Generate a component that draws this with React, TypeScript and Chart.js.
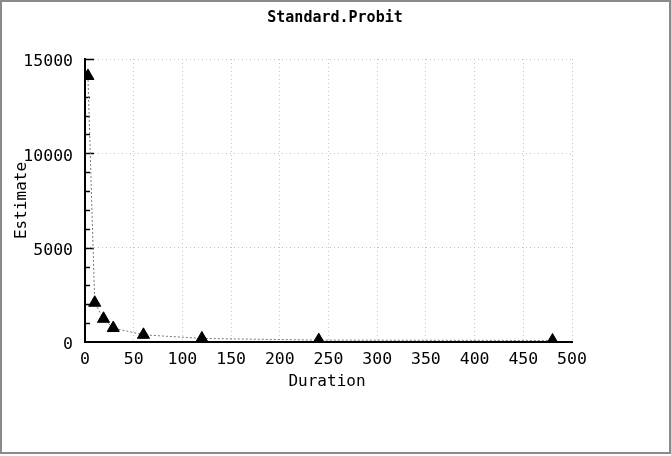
import React, { useEffect, useRef } from "react";
import { Chart, registerables } from "chart.js";

Chart.register(...registerables);

const durations = [3, 10, 19, 29, 60, 120, 240, 480];
const estimates = [14100, 2080, 1230, 740, 380, 190, 100, 80];
const titleText = "Standard.Probit";
const xTitle = "Duration";
const yTitle = "Estimate";

const MONO = "'DejaVu Sans Mono', monospace";

const decorPlugin = {
  id: "decor",
  beforeDatasetsDraw(chart: any) {
    const { ctx, chartArea, scales } = chart;
    const y = scales.y;
    ctx.save();
    ctx.strokeStyle = "#000";
    ctx.lineWidth = 1.5;
    for (let v = 1000; v <= 15000; v += 1000) {
      const py = Math.round(y.getPixelForValue(v)) + 0.5;
      const len = v % 5000 === 0 ? 9 : 5;
      ctx.beginPath();
      ctx.moveTo(chartArea.left, py);
      ctx.lineTo(chartArea.left + len, py);
      ctx.stroke();
    }
    ctx.restore();
  },
  afterDraw(chart: any) {
    const { ctx, chartArea, width, height, scales } = chart;
    ctx.save();
    ctx.strokeStyle = "#8a8a8a";
    ctx.lineWidth = 2;
    ctx.strokeRect(1, 1, width - 2, height - 4);
    ctx.fillStyle = "#000";
    // y tick labels
    ctx.textAlign = "right";
    ctx.textBaseline = "middle";
    ctx.font = `16.5px ${MONO}`;
    for (const t of scales.y.ticks) {
      ctx.fillText(String(t.value), 73, scales.y.getPixelForValue(t.value) + 3);
    }
    ctx.textAlign = "center";
    ctx.font = `bold 15px ${MONO}`;
    ctx.fillText(titleText, 335, 18);
    ctx.font = `16px ${MONO}`;
    ctx.fillText(xTitle, 327, 382);
    ctx.translate(22, (chartArea.top + chartArea.bottom) / 2);
    ctx.rotate(-Math.PI / 2);
    ctx.fillText(yTitle, 0, 0);
    ctx.restore();
  },
};

export default function App() {
  const ref = useRef<HTMLCanvasElement | null>(null);
  useEffect(() => {
    if (!ref.current) return;
    const chart = new Chart(ref.current, {
      type: "scatter",
      data: {
        datasets: [
          {
            data: durations.map((d, i) => ({ x: d, y: estimates[i] })),
            showLine: true,
            borderColor: "#777",
            borderWidth: 1,
            borderDash: [2, 2],
            pointStyle: "triangle",
            pointRadius: 7,
            pointBackgroundColor: "#000",
            pointBorderColor: "#000",
            pointBorderWidth: 1,
          },
        ],
      },
      options: {
        responsive: false,
        animation: false,
        layout: { padding: { left: 0, top: 59, right: 99, bottom: 0 } },
        plugins: {
          legend: { display: false },
          title: { display: false },
          tooltip: { enabled: false },
        },
        scales: {
          x: {
            type: "linear",
            min: 0,
            max: 500,
            ticks: {
              stepSize: 50,
              color: "#000",
              padding: 8,
              maxRotation: 0,
              font: { family: MONO, size: 16.5 },
              callback: (v: any) => String(v),
            },
            grid: { color: "#c4c4c4", lineWidth: 1, drawTicks: false },
            border: { display: true, color: "#000", width: 2, dash: [1, 3] },
            afterFit: (s: any) => {
              s.height = 456 - 342;
            },
          },
          y: {
            type: "linear",
            min: 0,
            max: 15000,
            ticks: {
              stepSize: 5000,
              display: false,
            },
            grid: { color: "#c4c4c4", lineWidth: 1, drawTicks: false },
            border: { display: true, color: "#000", width: 2, dash: [1, 3] },
            afterFit: (s: any) => {
              s.width = 85;
            },
          },
        },
      },
      plugins: [decorPlugin],
    });
    return () => chart.destroy();
  }, []);
  return (
    <div style={{ position: "fixed", left: 0, top: 0, width: 671, height: 456, background: "#fff" }}>
      <canvas ref={ref} width={671} height={456} />
    </div>
  );
}
